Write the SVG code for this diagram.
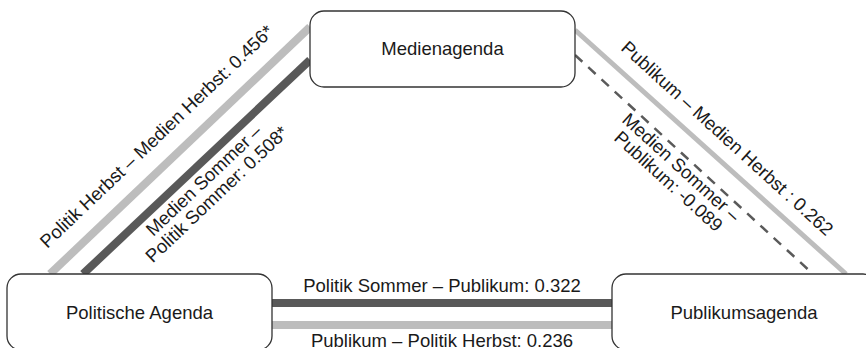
<svg xmlns="http://www.w3.org/2000/svg" width="866" height="348" viewBox="0 0 866 348">
  <style>
    .box { fill: #ffffff; stroke: #333333; stroke-width: 1.3; }
    .t { font-family: "Liberation Sans", Arial, sans-serif; font-size: 18.5px; fill: #1a1a1a; }
    .mid { text-anchor: middle; }
    .dark { stroke: #595959; stroke-width: 8; fill: none; }
    .light { stroke: #bdbdbd; stroke-width: 8; fill: none; }
    .lightthin { stroke: #bdbdbd; stroke-width: 5; fill: none; }
    .dash { stroke: #5a5a5a; stroke-width: 2.5; stroke-dasharray: 10 8; fill: none; }
  </style>
  <rect width="866" height="348" fill="#ffffff"/>
  <g id="connectors">
    <line class="light" x1="50" y1="274" x2="310" y2="27"/>
    <line class="dark" x1="83" y1="274" x2="310" y2="60"/>
    <line class="lightthin" x1="575" y1="30" x2="846" y2="274"/>
    <line class="dash" x1="575" y1="55" x2="813" y2="274"/>
    <line class="dark" x1="272" y1="303" x2="612" y2="303"/>
    <line class="light" x1="272" y1="325" x2="612" y2="325"/>
    <text class="t mid" transform="translate(161,141) rotate(-43.5)">Politik Herbst – Medien Herbst: 0.456*</text>
    <text class="t mid" transform="translate(208,185) rotate(-43.5)"><tspan x="0" y="0">Medien Sommer –</tspan><tspan x="0" y="19">Politik Sommer: 0.508*</tspan></text>
    <text class="t mid" transform="translate(723,143) rotate(42.3)">Publikum – Medien Herbst : 0.262</text>
    <text class="t mid" transform="translate(677,172) rotate(42.3)"><tspan x="0" y="0">Medien Sommer –</tspan><tspan x="0" y="19">Publikum: -0.089</tspan></text>
    <text class="t mid" x="442" y="292">Politik Sommer – Publikum: 0.322</text>
    <text class="t mid" x="442" y="347">Publikum – Politik Herbst: 0.236</text>
  </g>
  <g id="medienagenda">
    <rect class="box" x="310" y="11" width="265" height="76" rx="14"/>
    <text class="t mid" x="442.5" y="55">Medienagenda</text>
  </g>
  <g id="politische-agenda">
    <rect class="box" x="7" y="274" width="265" height="76" rx="14"/>
    <text class="t mid" x="139.5" y="319">Politische Agenda</text>
  </g>
  <g id="publikumsagenda">
    <rect class="box" x="612" y="274" width="265" height="76" rx="14"/>
    <text class="t mid" x="744" y="319">Publikumsagenda</text>
  </g>
</svg>
